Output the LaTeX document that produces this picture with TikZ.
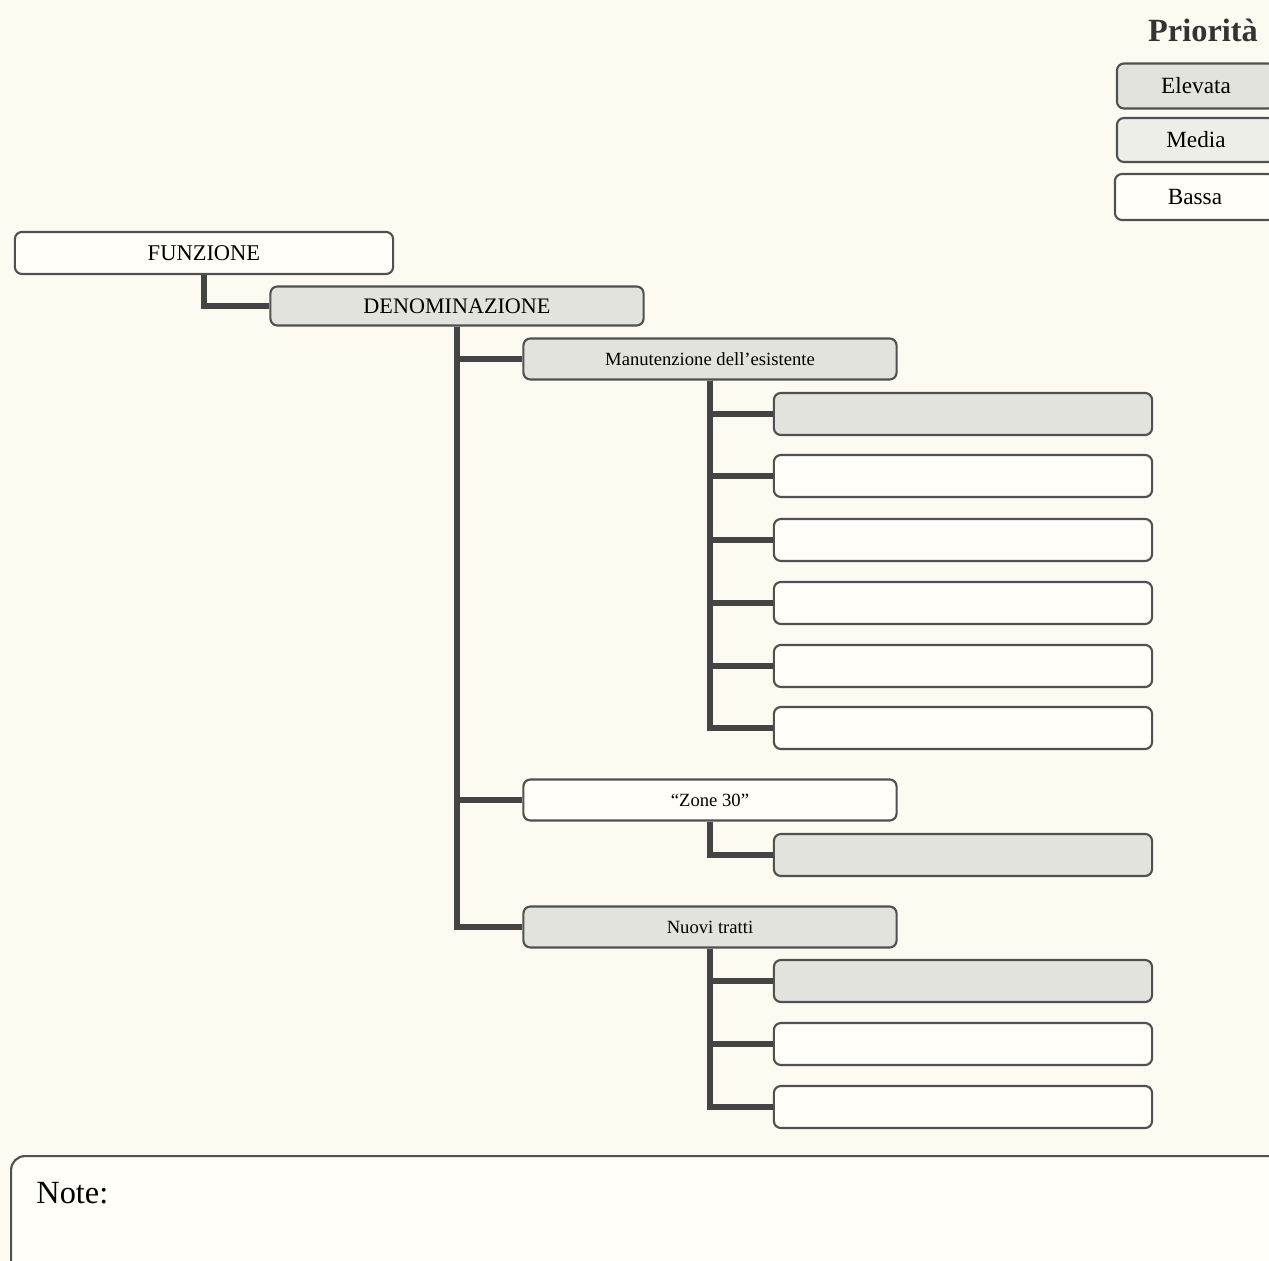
\documentclass[tikz,border=0pt]{standalone}
\usepackage{fontspec}
\setmainfont{Liberation Serif}
\definecolor{paper}{HTML}{FCFAF1}
\definecolor{hifill}{HTML}{E3E3DD}
\definecolor{midfill}{HTML}{EEEEE8}
\definecolor{lofill}{HTML}{FFFEF9}
\definecolor{edge}{HTML}{505050}
\definecolor{linkcol}{HTML}{444444}

\begin{document}
\begin{tikzpicture}[x=0.01cm,y=-0.01cm,
  box/.style={draw=edge,line width=0.6pt,rounded corners=2pt,inner sep=0pt},
  hi/.style={box,fill=hifill},
  mid/.style={box,fill=midfill},
  lo/.style={box,fill=lofill},
  branch/.style={minimum width=3.73cm,minimum height=0.41cm},
  leaf/.style={minimum width=3.78cm,minimum height=0.42cm},
  link/.style={draw=linkcol,line width=1.5pt}]
\useasboundingbox (0,0) rectangle (1269,1261);
\clip (0,0) rectangle (1269,1261);
\fill[paper] (0,0) rectangle (1269,1261);

% legenda
\node[font=\bfseries\fontsize{9.2}{11}\selectfont,text=black!80] (prio) at (1203,30) {Priorità};
\node[hi,minimum width=1.58cm,minimum height=0.45cm,font=\fontsize{6.6}{8}\selectfont] (elev) at (1196,86) {Elevata};
\node[mid,minimum width=1.58cm,minimum height=0.44cm,font=\fontsize{6.6}{8}\selectfont] (media) at (1196,140) {Media};
\node[lo,minimum width=1.60cm,minimum height=0.46cm,font=\fontsize{6.6}{8}\selectfont] (bassa) at (1195,197) {Bassa};

% albero
\node[lo,minimum width=3.78cm,minimum height=0.42cm,font=\fontsize{6.4}{8}\selectfont] (funz) at (204,253) {FUNZIONE};
\node[hi,minimum width=3.73cm,minimum height=0.39cm,font=\fontsize{6.3}{7}\selectfont] (denom) at (457,306) {DENOMINAZIONE};
\node[hi,branch,font=\fontsize{5.3}{7}\selectfont] (manu) at (710,359) {Manutenzione dell'esistente};
\node[lo,branch,font=\fontsize{5.3}{7}\selectfont] (zone) at (710,800) {“Zone 30”};
\node[hi,branch,font=\fontsize{5.3}{7}\selectfont] (nuovi) at (710,927) {Nuovi tratti};

\node[hi,leaf] (m1) at (963,414) {};
\foreach \i/\y in {2/476,3/540,4/603,5/666,6/728}
  \node[lo,leaf] (m\i) at (963,\y) {};
\node[hi,leaf] (z1) at (963,855) {};
\node[hi,leaf] (n1) at (963,981) {};
\node[lo,leaf] (n2) at (963,1044) {};
\node[lo,leaf] (n3) at (963,1107) {};

\draw[link] (funz.south) |- (denom.west);
\foreach \c in {manu,zone,nuovi}
  \draw[link] (denom.south) |- (\c.west);
\foreach \c in {m1,m2,m3,m4,m5,m6}
  \draw[link] (manu.south) |- (\c.west);
\draw[link] (zone.south) |- (z1.west);
\foreach \c in {n1,n2,n3}
  \draw[link] (nuovi.south) |- (\c.west);

% note
\node[lo,rounded corners=4pt,minimum width=12.9cm,minimum height=1.4cm,anchor=north west] (note) at (10,1155) {};
\node[anchor=west,font=\fontsize{9.2}{11}\selectfont] (notelab) at (24,1193) {Note:};
\end{tikzpicture}
\end{document}
